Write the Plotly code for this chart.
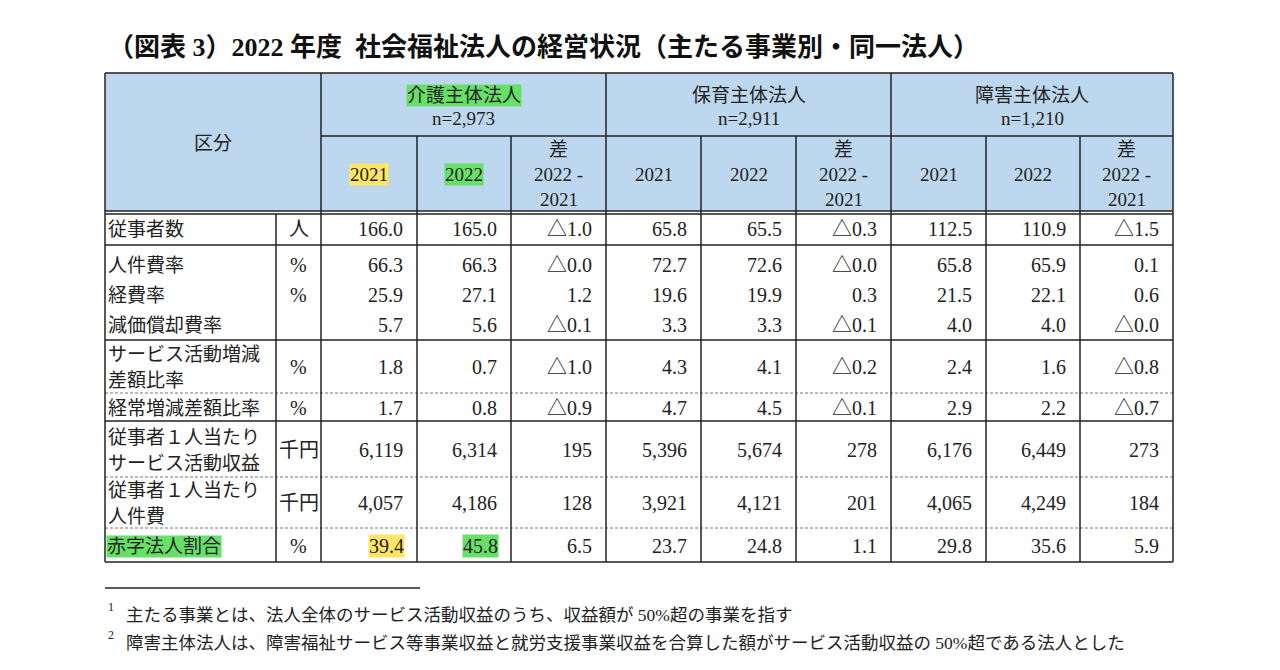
import plotly.graph_objects as go

# 表のデータ
title = "（図表 3）2022 年度  社会福祉法人の経営状況（主たる事業別・同一法人）"
corner_label = "区分"
groups = ["介護主体法人", "保育主体法人", "障害主体法人"]
group_n = ["n=2,973", "n=2,911", "n=1,210"]
sub_headers = ["2021", "2022", "差\n2022 -\n2021"]

row_labels = ["従事者数", "人件費率", "経費率", "減価償却費率",
              "サービス活動増減\n差額比率", "経常増減差額比率",
              "従事者１人当たり\nサービス活動収益", "従事者１人当たり\n人件費",
              "赤字法人割合"]
units = ["人", "%", "%", "", "%", "%", "千円", "千円", "%"]
decimals = [1, 1, 1, 1, 1, 1, 0, 0, 1]

kaigo_2021 = [166.0, 66.3, 25.9, 5.7, 1.8, 1.7, 6119, 4057, 39.4]
kaigo_2022 = [165.0, 66.3, 27.1, 5.6, 0.7, 0.8, 6314, 4186, 45.8]
kaigo_diff = [-1.0, -0.0, 1.2, -0.1, -1.0, -0.9, 195, 128, 6.5]
hoiku_2021 = [65.8, 72.7, 19.6, 3.3, 4.3, 4.7, 5396, 3921, 23.7]
hoiku_2022 = [65.5, 72.6, 19.9, 3.3, 4.1, 4.5, 5674, 4121, 24.8]
hoiku_diff = [-0.3, -0.0, 0.3, -0.1, -0.2, -0.1, 278, 201, 1.1]
shogai_2021 = [112.5, 65.8, 21.5, 4.0, 2.4, 2.9, 6176, 4065, 29.8]
shogai_2022 = [110.9, 65.9, 22.1, 4.0, 1.6, 2.2, 6449, 4249, 35.6]
shogai_diff = [-1.5, 0.1, 0.6, -0.0, -0.8, -0.7, 273, 184, 5.9]

footnotes = ["主たる事業とは、法人全体のサービス活動収益のうち、収益額が 50%超の事業を指す",
             "障害主体法人は、障害福祉サービス等事業収益と就労支援事業収益を合算した額がサービス活動収益の 50%超である法人とした"]

columns = [kaigo_2021, kaigo_2022, kaigo_diff,
           hoiku_2021, hoiku_2022, hoiku_diff,
           shogai_2021, shogai_2022, shogai_diff]

# 配置（ピクセル座標）
col_edges = [105, 276, 321, 417, 511, 606, 701, 796, 891, 986, 1080, 1173]
top, group_bottom, head_bottom, bottom = 73, 136, 211, 562
row_y = [229, 265, 295, 325, 367, 408, 450, 503, 546]
body_lines = [(245, "solid"), (340, "solid"), (393, "dash"),
              (421, "solid"), (477, "dash"), (528, "dash")]
line_gap = 26
OFF = 8  # ページ余白の補正

LINE = "#222222"
HEAD_BG = "#bdd7ee"
GREEN = "#66e066"
YELLOW = "#ffe566"
FONT = "Liberation Serif, Noto Sans CJK JP"
TXT = "#222222"


def fmt(v, d):
    neg = v < 0 or (v == 0 and str(v).startswith("-"))
    s = f"{abs(v):,.{d}f}"
    return "△" + s if neg else s


fig = go.Figure()
shapes = []
ann = []


def hline(y, x0, x1, dash="solid", w=1.5, color=LINE):
    shapes.append(dict(type="line", xref="x", yref="y", x0=x0, x1=x1, y0=y, y1=y,
                       line=dict(color=color, width=w, dash=dash)))


def vline(x, y0, y1, w=1.5):
    shapes.append(dict(type="line", xref="x", yref="y", x0=x, x1=x, y0=y0, y1=y1,
                       line=dict(color=LINE, width=w)))


def text(x, y, s, size=17, anchor="center", bg=None, color=TXT):
    a = dict(x=x, y=y, xref="x", yref="y", text=s, showarrow=False,
             xanchor=anchor, yanchor="middle",
             font=dict(family=FONT, size=size, color=color))
    if bg:
        a["bgcolor"] = bg
        a["borderpad"] = 0
    ann.append(a)


# ヘッダー背景
shapes.append(dict(type="rect", xref="x", yref="y", x0=col_edges[0], x1=col_edges[-1],
                   y0=top, y1=head_bottom, fillcolor=HEAD_BG, line=dict(width=0), layer="below"))

# 罫線
hline(top, col_edges[0], col_edges[-1])
hline(group_bottom, col_edges[2], col_edges[-1])
hline(head_bottom, col_edges[0], col_edges[-1])
hline(head_bottom + 3, col_edges[0], col_edges[-1])
for y, dash in body_lines:
    if dash == "solid":
        hline(y, col_edges[0], col_edges[-1])
    else:
        hline(y, col_edges[0], col_edges[-1], dash="3px,2px", w=1, color="#777777")
hline(bottom, col_edges[0], col_edges[-1])

for i, x in enumerate(col_edges):
    if i in (0, 2, 5, 8, 11):
        vline(x, top, bottom)
    elif i == 1:
        vline(x, head_bottom + 3, bottom)
    else:
        vline(x, group_bottom, bottom)

# タイトル
text(106, 47, "<b>" + title + "</b>", size=26, anchor="left", color="#111111")

# ヘッダー文字
text((col_edges[0] + col_edges[2]) / 2, 143, corner_label, size=19)
for g in range(3):
    x0, x1 = col_edges[2 + 3 * g], col_edges[5 + 3 * g]
    text((x0 + x1) / 2, 95, groups[g], size=19, bg=GREEN if g == 0 else None)
    text((x0 + x1) / 2, 118, group_n[g], size=19)
    for k in range(3):
        cx = (col_edges[2 + 3 * g + k] + col_edges[3 + 3 * g + k]) / 2
        parts = sub_headers[k].split("\n")
        if len(parts) == 1:
            bg = None
            if g == 0:
                bg = YELLOW if k == 0 else GREEN
            text(cx, 174, parts[0], size=19, bg=bg)
        else:
            for j, p in enumerate(parts):
                text(cx, 174 + (j - 1) * 25, p, size=19)

# 本体
for r, label in enumerate(row_labels):
    lines = label.split("\n")
    for j, p in enumerate(lines):
        y = row_y[r] + (j - (len(lines) - 1) / 2) * line_gap
        text(106, y, p, size=19, anchor="left",
             bg=GREEN if r == len(row_labels) - 1 else None)
    text((col_edges[1] + col_edges[2]) / 2, row_y[r], units[r], size=20)
    for c, col in enumerate(columns):
        bg = None
        if r == len(row_labels) - 1 and c == 0:
            bg = YELLOW
        elif r == len(row_labels) - 1 and c == 1:
            bg = GREEN
        text(col_edges[3 + c] - 12, row_y[r], fmt(col[r], decimals[r]), size=20,
             anchor="right", bg=bg)

# 脚注
hline(588, 105, 420, w=1.5)
for i, note in enumerate(footnotes):
    y = 615 + i * 28
    text(106, y - 8, str(i + 1), size=12, anchor="left")
    text(124, y, note, size=17.5, anchor="left")

fig.update_layout(
    width=1280, height=670,
    margin=dict(l=0, r=0, t=0, b=0),
    paper_bgcolor="white", plot_bgcolor="white",
    xaxis=dict(range=[OFF, 1280 + OFF], visible=False, fixedrange=True),
    yaxis=dict(range=[670 + OFF, OFF], visible=False, fixedrange=True),
    shapes=shapes, annotations=ann, showlegend=False,
)
fig.write_html("out.html")
